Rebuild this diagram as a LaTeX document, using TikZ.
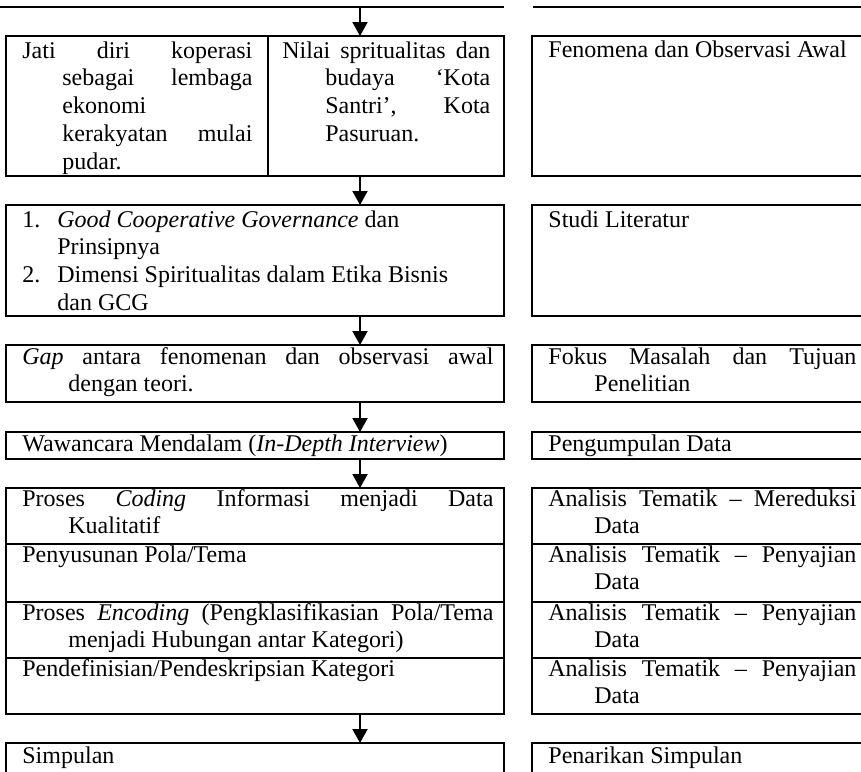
\documentclass[tikz,border=0pt]{standalone}
\usepackage{fontspec}
\setmainfont{Liberation Serif}
\usetikzlibrary{arrows.meta, positioning, calc}

% hanging paragraph as in the table cells
\newcommand{\hang}[2]{\hangindent=#1\hangafter=1\noindent#2\par}
\hbadness=10000

\begin{document}
\begin{tikzpicture}[
  x=0.5pt, y=-0.5pt,
  font=\fontsize{12pt}{13.9pt}\selectfont,
  box/.style={draw, line width=1pt, inner sep=0pt, outer sep=0pt, anchor=north west},
  boxL/.style={box, minimum width=249pt},
  boxR/.style={box, minimum width=175pt},
  txt/.style={anchor=base west, inner sep=0pt, align=justify},
  txtL/.style={txt, text width=235.5pt},
  txtR/.style={txt, text width=154pt},
  flow/.style={-{Triangle[length=7pt, width=7.5pt]}, line width=1pt},
]
\useasboundingbox (0,0) rectangle (861,771);
\clip (0,0) rectangle (861,771);
\coordinate (ax) at (360,0);
% Top edge (end of previous rows)
\coordinate (topL) at (0,6.5);
\coordinate (topLe) at (504,6.5);
\coordinate (topR) at (533,6.5);
\coordinate (topRe) at (880,6.5);
\draw[line width=1pt] (topL) -- (topLe);
\draw[line width=1pt] (topR) -- (topRe);
% Row 1
\node[box, minimum width=131pt, minimum height=70pt] (jati) at (6,36) {};
\node[box, minimum width=118pt, minimum height=70pt] (nilai) at (268,36) {};
\node[boxR, minimum height=70pt] (fenomena) at (532,36) {};
\node[txt, text width=115pt] (jatiT) at ($(jati.north west)+(16,22)$)
  {\hang{20pt}{Jati diri koperasi\linebreak sebagai lembaga\linebreak ekonomi\newline kerakyatan mulai\linebreak pudar.}};
\node[txt, text width=104pt] (nilaiT) at ($(nilai.north west)+(14,22)$)
  {\hang{21.5pt}{Nilai spritualitas dan\linebreak budaya ‘Kota\linebreak Santri’, Kota\linebreak Pasuruan.}};
\node[txtR] (fenomenaT) at ($(fenomena.north west)+(16,21)$) {Fenomena dan Observasi Awal};
% Row 2
\node[boxL, minimum height=55.5pt] (teori) at (6,205) {};
\node[boxR, minimum height=55.5pt] (studi) at (532,205) {};
\node[txtL] (teoriT) at ($(teori.north west)+(16,22)$)
  {\hang{17.5pt}{\makebox[17.5pt][l]{1.}\textit{Good Cooperative Governance} dan\newline Prinsipnya}%
   \hang{17.5pt}{\makebox[17.5pt][l]{2.}Dimensi Spiritualitas dalam Etika Bisnis\newline dan GCG}};
\node[txtR] (studiT) at ($(studi.north west)+(16,22)$) {Studi Literatur};
% Row 3
\node[boxL, minimum height=28.5pt] (gap) at (6,345) {};
\node[boxR, minimum height=28.5pt] (fokus) at (532,345) {};
\node[txtL] (gapT) at ($(gap.north west)+(16,19)$)
  {\hang{23pt}{\textit{Gap} antara fenomenan dan observasi awal\linebreak dengan teori.}};
\node[txtR] (fokusT) at ($(fokus.north west)+(16,19)$)
  {\hang{23pt}{Fokus Masalah dan Tujuan\linebreak Penelitian}};
% Row 4
\node[boxL, minimum height=13.5pt] (wawancara) at (6,432) {};
\node[boxR, minimum height=13.5pt] (kumpul) at (532,432) {};
\node[txtL] (wawancaraT) at ($(wawancara.north west)+(16,19)$)
  {Wawancara Mendalam (\textit{In-Depth Interview})};
\node[txtR] (kumpulT) at ($(kumpul.north west)+(16,19)$) {Pengumpulan Data};
% Analysis rows
\foreach \i/\y/\h/\tl/\tr in {
  1/488/28/{\hang{23pt}{Proses \textit{Coding} Informasi menjadi Data\linebreak Kualitatif}}/{\hang{23pt}{Analisis Tematik – Mereduksi\linebreak Data}},
  2/544/29/{Penyusunan Pola/Tema}/{\hang{23pt}{Analisis Tematik – Penyajian\linebreak Data}},
  3/602/28/{\hang{23pt}{Proses \textit{Encoding} (Pengklasifikasian Pola/Tema\linebreak menjadi Hubungan antar Kategori)}}/{\hang{23pt}{Analisis Tematik – Penyajian\linebreak Data}},
  4/658/28/{Pendefinisian/Pendeskripsian Kategori}/{\hang{23pt}{Analisis Tematik – Penyajian\linebreak Data}}%
}{
  \node[boxL, minimum height=\h pt] (rowL\i) at (6,\y) {};
  \node[boxR, minimum height=\h pt] (rowR\i) at (532,\y) {};
  \node[txtL] (tL\i) at ($(rowL\i.north west)+(16,18)$) {\tl};
  \node[txtR] (tR\i) at ($(rowR\i.north west)+(16,18)$) {\tr};
}
% Last row
\node[boxL, minimum height=25pt] (simpulan) at (6,743) {};
\node[boxR, minimum height=25pt] (tarik) at (532,743) {};
\node[txtL] (simpulanT) at ($(simpulan.north west)+(16,20)$) {Simpulan};
\node[txtR] (tarikT) at ($(tarik.north west)+(16,20)$) {Penarikan Simpulan};
% Arrows
\draw[flow] (ax |- topL) -- (ax |- nilai.north);
\draw[flow] (ax |- nilai.south) -- (ax |- teori.north);
\draw[flow] (ax |- teori.south) -- (ax |- gap.north);
\draw[flow] (ax |- gap.south) -- (ax |- wawancara.north);
\draw[flow] (ax |- wawancara.south) -- (ax |- rowL1.north);
\draw[flow] (ax |- rowL4.south) -- (ax |- simpulan.north);
\end{tikzpicture}
\end{document}
